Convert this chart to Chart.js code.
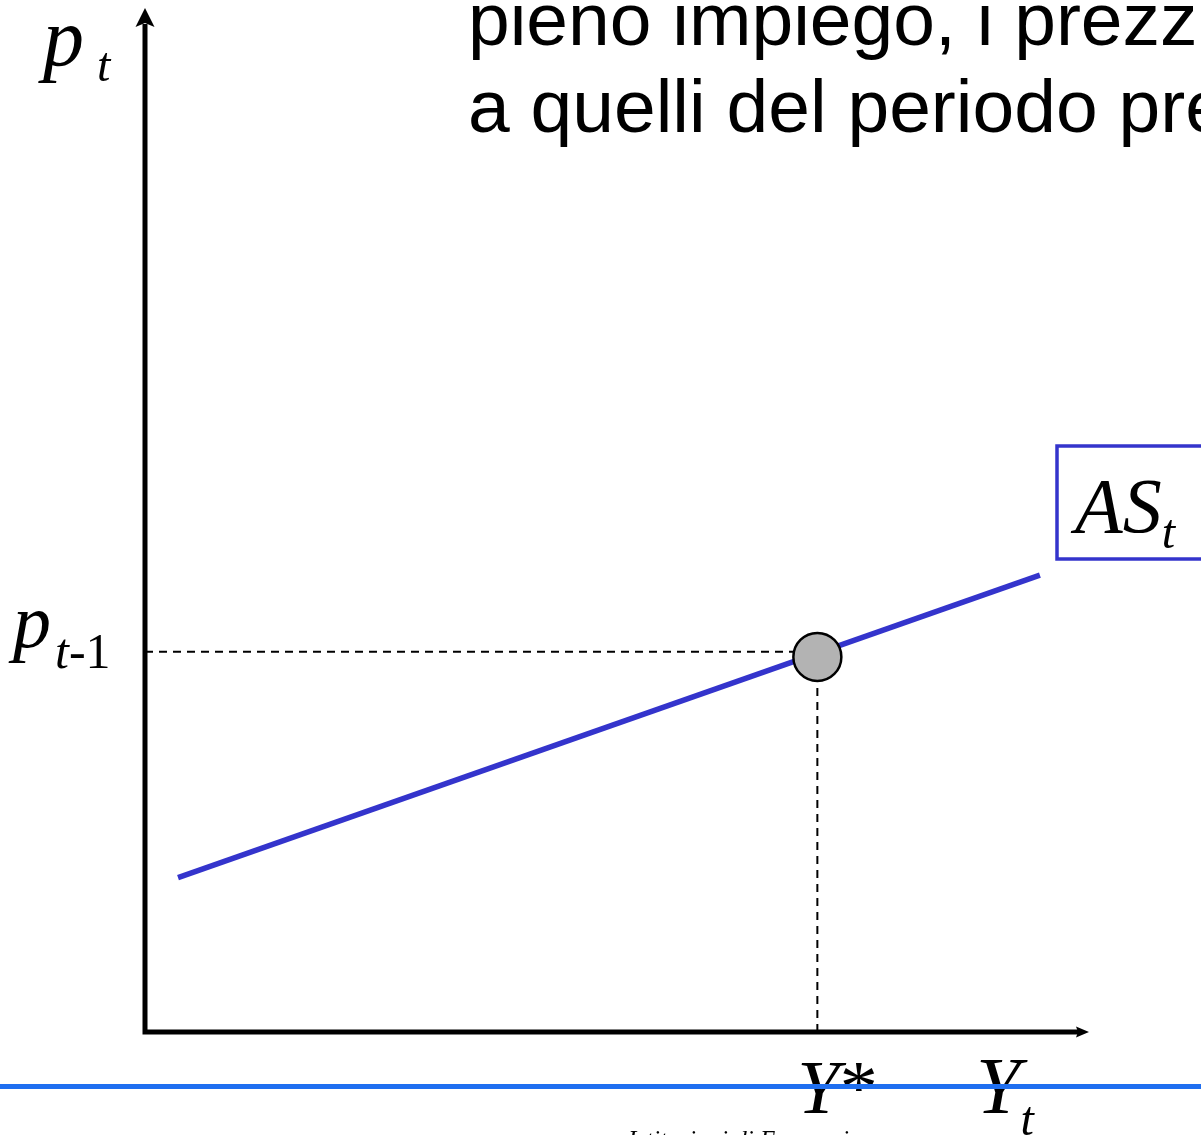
<!DOCTYPE html>
<html>
<head>
<meta charset="utf-8">
<title>Offerta aggregata</title>
<script src="https://cdn.jsdelivr.net/npm/chart.js@4.4.1/dist/chart.umd.min.js"></script>
<style>
  html, body { margin: 0; padding: 0; background: #ffffff; overflow: hidden; }
  canvas { display: block; }
</style>
</head>
<body>
<canvas id="chart" width="1201" height="1135"></canvas>
<script>
// Aggregate supply curve AS_t (output Y_t on x, price p_t on y)
const asOutput = [3.5, 94.9];
const asPrice = [15.1, 44.7];

// Full-employment output Y* and previous-period price p_{t-1}
const fullEmploymentOutput = [71.3];
const previousPrice = [37.2];
const equilibriumPrice = [36.7];

// Axis ranges
const outputRange = [0, 100];
const priceRange = [0, 100];

// Texts
const titleLines = ['pieno impiego, i prezzi sono uguali', 'a quelli del periodo precedente'];
const footerText = 'Istituzioni di Economia';

const AS_BLUE = '#3434cc';
const SERIF = '"Liberation Serif", "Times New Roman", serif';
const SANS = '"Liberation Sans", Arial, sans-serif';

const toPoints = (xs, ys) => xs.map((x, i) => ({ x, y: ys[i] }));

const ystar = fullEmploymentOutput[0];
const pprev = previousPrice[0];

const datasets = [
  {
    // horizontal guide at p_{t-1}
    data: [{ x: outputRange[0], y: pprev }, { x: ystar, y: pprev }],
    showLine: true, borderColor: '#000', borderWidth: 2, borderDash: [8, 6],
    pointRadius: 0, order: 3
  },
  {
    // vertical guide at Y*
    data: [{ x: ystar, y: priceRange[0] }, { x: ystar, y: pprev }],
    showLine: true, borderColor: '#000', borderWidth: 2, borderDash: [8, 6],
    pointRadius: 0, order: 3
  },
  {
    label: 'AS',
    data: toPoints(asOutput, asPrice),
    showLine: true, borderColor: AS_BLUE, borderWidth: 5.5,
    pointRadius: 0, order: 2
  },
  {
    label: 'equilibrio',
    data: toPoints(fullEmploymentOutput, equilibriumPrice),
    showLine: false, pointRadius: 24, pointHoverRadius: 24,
    pointBackgroundColor: '#b3b3b3', pointBorderColor: '#000', pointBorderWidth: 2.5,
    order: 1
  }
];

// draws a run of text pieces (text, font, x-offset, y-offset) from a common origin
function drawPieces(ctx, x, y, parts) {
  let cx = x;
  for (const [text, font, dx, dy] of parts) {
    ctx.font = font;
    cx += dx || 0;
    ctx.fillText(text, cx, y + (dy || 0));
    cx += ctx.measureText(text).width;
  }
}

const decorations = {
  id: 'decorations',
  afterDatasetsDraw(chart) {
    const { ctx } = chart;
    const xs = chart.scales.x, ys = chart.scales.y;
    const x0 = xs.getPixelForValue(outputRange[0]);
    const y0 = ys.getPixelForValue(priceRange[0]);
    const xEnd = xs.getPixelForValue(outputRange[1]);
    const yEnd = ys.getPixelForValue(priceRange[1]);

    ctx.save();
    ctx.fillStyle = '#000';
    ctx.strokeStyle = '#000';
    ctx.lineWidth = 5;
    ctx.lineCap = 'butt';

    // axes
    ctx.beginPath();
    ctx.moveTo(x0, yEnd + 14);
    ctx.lineTo(x0, y0 + 2.5);
    ctx.moveTo(x0 - 2.5, y0);
    ctx.lineTo(xEnd - 10, y0);
    ctx.stroke();
    // arrow heads
    ctx.beginPath();
    ctx.moveTo(x0, yEnd - 2);
    ctx.lineTo(x0 + 9.5, yEnd + 17);
    ctx.lineTo(x0, yEnd + 13);
    ctx.lineTo(x0 - 9.5, yEnd + 17);
    ctx.closePath();
    ctx.fill();
    ctx.beginPath();
    ctx.moveTo(xEnd + 1, y0);
    ctx.lineTo(xEnd - 12, y0 - 5.5);
    ctx.lineTo(xEnd - 10, y0);
    ctx.lineTo(xEnd - 12, y0 + 5.5);
    ctx.closePath();
    ctx.fill();

    // axis labels
    ctx.textBaseline = 'alphabetic';
    ctx.textAlign = 'left';
    drawPieces(ctx, 43, 65, [['p', 'italic 82px ' + SERIF], ['t', 'italic 48px ' + SERIF, 13, 16]]);
    const pp = ys.getPixelForValue(pprev);
    drawPieces(ctx, 13, pp - 5, [['p', 'italic 76px ' + SERIF], ['t', 'italic 50px ' + SERIF, 4, 21], ['-1', '50px ' + SERIF, 0, 21]]);
    const yx = xs.getPixelForValue(ystar);
    drawPieces(ctx, yx - 20, y0 + 81, [['Y', 'italic 76px ' + SERIF], ['*', '76px ' + SERIF]]);
    drawPieces(ctx, xEnd - 112, y0 + 81, [['Y', 'italic 80px ' + SERIF], ['t', 'italic 48px ' + SERIF, 0, 22]]);

    // AS_t box
    ctx.strokeStyle = AS_BLUE;
    ctx.lineWidth = 3.5;
    ctx.strokeRect(1057, 446, 200, 113);
    ctx.fillStyle = '#000';
    drawPieces(ctx, 1075, 532, [['AS', 'italic 78px ' + SERIF], ['t', 'italic 48px ' + SERIF, 0, 16]]);

    // title
    ctx.font = '75px ' + SANS;
    ctx.fillText(titleLines[0], 468, 45);
    ctx.fillText(titleLines[1], 468, 132);

    // footer rule and text
    ctx.fillStyle = '#1f6ff0';
    ctx.fillRect(0, 1084, chart.width, 5);
    ctx.fillStyle = '#000';
    ctx.font = 'italic 25px ' + SERIF;
    ctx.fillText(footerText, 628, 1148);
    ctx.restore();
  }
};

new Chart(document.getElementById('chart'), {
  type: 'scatter',
  data: { datasets },
  options: {
    responsive: false,
    animation: false,
    events: [],
    layout: { autoPadding: false, padding: { left: 145, top: 10, right: 113, bottom: 103 } },
    plugins: { legend: { display: false }, tooltip: { enabled: false } },
    elements: { line: { tension: 0, borderCapStyle: 'butt' } },
    datasets: { scatter: { clip: false } },
    scales: {
      x: { type: 'linear', min: outputRange[0], max: outputRange[1], display: false },
      y: { type: 'linear', min: priceRange[0], max: priceRange[1], display: false }
    }
  },
  plugins: [decorations]
});
</script>
</body>
</html>
